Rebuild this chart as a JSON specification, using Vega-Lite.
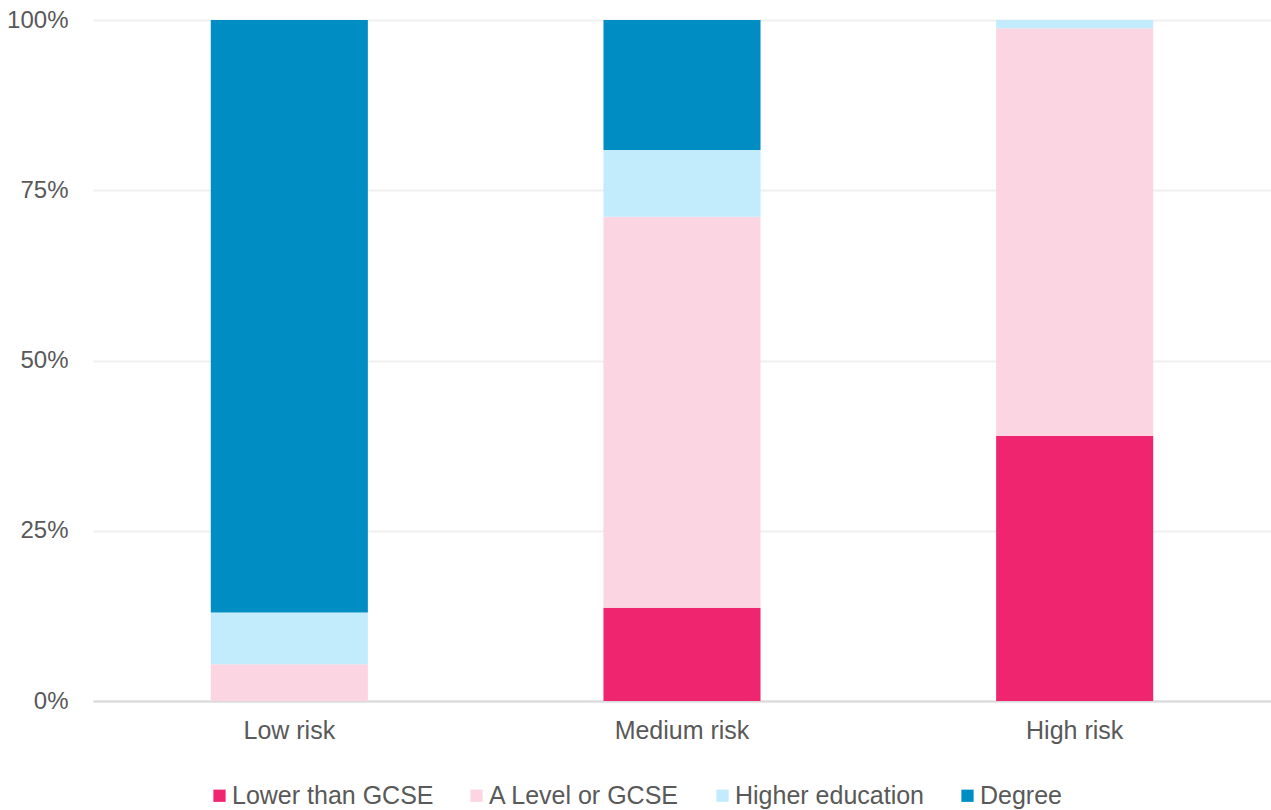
{
  "$schema": "https://vega.github.io/schema/vega-lite/v6.json",
  "width": 1178,
  "height": 681,
  "autosize": {"type": "none"},
  "padding": {"left": 93, "top": 20, "right": 0, "bottom": 109},
  "config": {
    "font": "Liberation Sans",
    "view": {"stroke": null},
    "axis": {"labelColor": "#595959", "labelFont": "Liberation Sans", "labelFontSize": 24}
  },
  "data": {
    "values": [
      {"risk": "Low risk", "education": "Lower than GCSE", "share": 0.0},
      {"risk": "Low risk", "education": "A Level or GCSE", "share": 0.054},
      {"risk": "Low risk", "education": "Higher education", "share": 0.076},
      {"risk": "Low risk", "education": "Degree", "share": 0.87},
      {"risk": "Medium risk", "education": "Lower than GCSE", "share": 0.137},
      {"risk": "Medium risk", "education": "A Level or GCSE", "share": 0.574},
      {"risk": "Medium risk", "education": "Higher education", "share": 0.098},
      {"risk": "Medium risk", "education": "Degree", "share": 0.191},
      {"risk": "High risk", "education": "Lower than GCSE", "share": 0.389},
      {"risk": "High risk", "education": "A Level or GCSE", "share": 0.599},
      {"risk": "High risk", "education": "Higher education", "share": 0.012},
      {"risk": "High risk", "education": "Degree", "share": 0.0}
    ]
  },
  "transform": [
    {"calculate": "indexof(['Lower than GCSE', 'A Level or GCSE', 'Higher education', 'Degree'], datum.education)", "as": "stackOrder"}
  ],
  "mark": {"type": "bar"},
  "encoding": {
    "x": {
      "field": "risk",
      "type": "nominal",
      "sort": ["Low risk", "Medium risk", "High risk"],
      "scale": {"paddingInner": 0.6, "paddingOuter": 0.3},
      "axis": {
        "title": null,
        "labelAngle": 0,
        "ticks": false,
        "domainColor": "#d9d9d9",
        "domainWidth": 2,
        "labelPadding": 17,
        "labelFontSize": 25,
        "grid": false
      }
    },
    "y": {
      "field": "share",
      "type": "quantitative",
      "stack": "zero",
      "scale": {"domain": [0, 1]},
      "axis": {
        "title": null,
        "values": [0, 0.25, 0.5, 0.75, 1],
        "format": ".0%",
        "domain": false,
        "ticks": false,
        "labelPadding": 25,
        "gridColor": "#efefef",
        "gridWidth": 2
      }
    },
    "color": {
      "field": "education",
      "type": "nominal",
      "sort": ["Lower than GCSE", "A Level or GCSE", "Higher education", "Degree"],
      "scale": {
        "domain": ["Lower than GCSE", "A Level or GCSE", "Higher education", "Degree"],
        "range": ["#ef2570", "#fbd5e2", "#c2ecfc", "#008dc4"]
      },
      "legend": {
        "title": null,
        "orient": "none",
        "legendX": 114,
        "legendY": 763,
        "direction": "horizontal",
        "symbolType": "square",
        "symbolSize": 150,
        "symbolStrokeWidth": 0,
        "labelFontSize": 25,
        "labelLimit": 400,
        "labelColor": "#595959",
        "labelOffset": 0,
        "columnPadding": 30
      }
    },
    "order": {"field": "stackOrder", "type": "quantitative", "sort": "ascending"}
  }
}
